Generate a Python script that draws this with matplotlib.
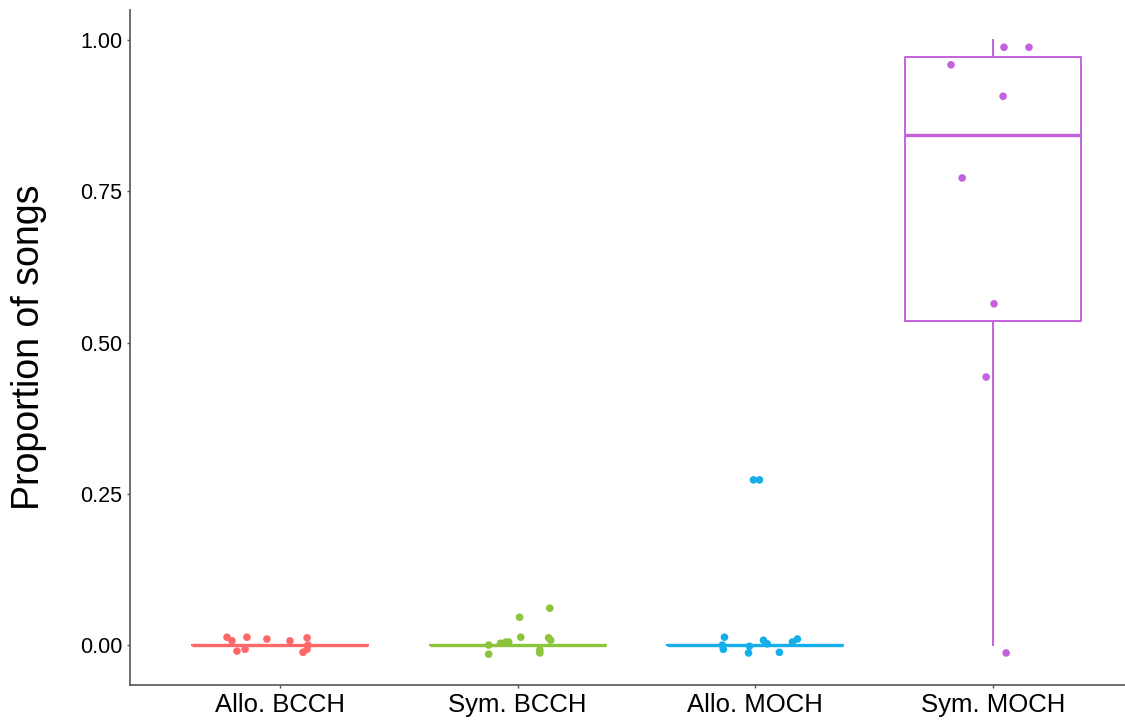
import matplotlib

matplotlib.use("Agg")
import matplotlib.pyplot as plt


# Nazivi grupa i boje
GROUPS = ["Allo. BCCH", "Sym. BCCH", "Allo. MOCH", "Sym. MOCH"]
COLORS = ["#FF6868", "#8CC43C", "#14AEEA", "#C462DE"]

# Statistike boxplota (q1, median, q3, donji i gornji brk)
Q1 = [0.0, 0.0, 0.0, 0.535]
MEDIAN = [0.0, 0.0, 0.0, 0.843]
Q3 = [0.0, 0.0, 0.0, 0.972]
WHISKER_LOW = [0.0, 0.0, 0.0, 0.0]
WHISKER_HIGH = [0.0, 0.0, 0.0, 1.0]

# Jitter tačke po grupama (x pozicija, y vrednost)
ALLO_BCCH_X = [0.777, 0.798, 0.861, 0.853, 0.819, 0.945, 1.042, 1.114, 1.118, 1.114, 1.097]
ALLO_BCCH_Y = [0.013, 0.007, 0.013, -0.007, -0.010, 0.010, 0.007, 0.012, 0.0, -0.007, -0.012]

SYM_BCCH_X = [1.878, 1.878, 1.928, 1.950, 1.962, 2.008, 2.013, 2.093, 2.093, 2.135, 2.130, 2.139]
SYM_BCCH_Y = [0.0, -0.015, 0.003, 0.005, 0.005, 0.046, 0.013, -0.008, -0.013, 0.061, 0.012, 0.008]

ALLO_MOCH_X = [2.870, 2.861, 2.865, 2.975, 2.971, 3.034, 3.050, 3.101, 3.156, 3.177, 2.992, 3.017]
ALLO_MOCH_Y = [0.013, 0.0, -0.007, -0.002, -0.013, 0.008, 0.002, -0.012, 0.005, 0.010, 0.273, 0.273]

SYM_MOCH_X = [3.823, 4.046, 4.151, 4.042, 3.870, 4.004, 3.971, 4.055]
SYM_MOCH_Y = [0.959, 0.988, 0.988, 0.907, 0.772, 0.564, 0.443, -0.013]

POINTS_X = [ALLO_BCCH_X, SYM_BCCH_X, ALLO_MOCH_X, SYM_MOCH_X]
POINTS_Y = [ALLO_BCCH_Y, SYM_BCCH_Y, ALLO_MOCH_Y, SYM_MOCH_Y]

Y_TICKS = [0.0, 0.25, 0.5, 0.75, 1.0]
Y_TICK_LABELS = ["0.00", "0.25", "0.50", "0.75", "1.00"]


def main():
    plt.rcParams["font.family"] = ["Liberation Sans", "DejaVu Sans"]

    fig = plt.figure(figsize=(11.25, 7.23), dpi=100)
    ax = fig.add_axes([130 / 1125, 38 / 723, 995 / 1125, 675 / 723])

    positions = list(range(1, len(GROUPS) + 1))

    for i, pos in enumerate(positions):
        stats = [
            {
                "q1": Q1[i],
                "med": MEDIAN[i],
                "q3": Q3[i],
                "whislo": WHISKER_LOW[i],
                "whishi": WHISKER_HIGH[i],
                "fliers": [],
            }
        ]
        ax.bxp(
            stats,
            positions=[pos],
            widths=0.74,
            showcaps=False,
            showfliers=False,
            boxprops={"color": COLORS[i], "linewidth": 1.4},
            whiskerprops={"color": COLORS[i], "linewidth": 1.4},
            medianprops={"color": COLORS[i], "linewidth": 2.4},
            zorder=2,
        )
        ax.scatter(
            POINTS_X[i],
            POINTS_Y[i],
            s=30,
            color=COLORS[i],
            edgecolors="none",
            zorder=3,
        )

    ax.set_xlim(0.369, 4.555)
    ax.set_ylim(-0.066, 1.0496)
    ax.set_xticks(positions)
    ax.set_xticklabels(GROUPS, fontsize=18.5, color="black")
    ax.set_yticks(Y_TICKS)
    ax.set_yticklabels(Y_TICK_LABELS, fontsize=15.5, color="black")
    ax.set_ylabel("Proportion of songs", fontsize=27, labelpad=24)

    for side in ["top", "right"]:
        ax.spines[side].set_visible(False)
    for side in ["left", "bottom"]:
        ax.spines[side].set_color("#555555")
        ax.spines[side].set_linewidth(1.2)
    ax.tick_params(axis="both", length=2.5, width=1.0, color="#555555", pad=3)

    fig.savefig("out.png", dpi=100)
    plt.close(fig)


if __name__ == "__main__":
    main()
